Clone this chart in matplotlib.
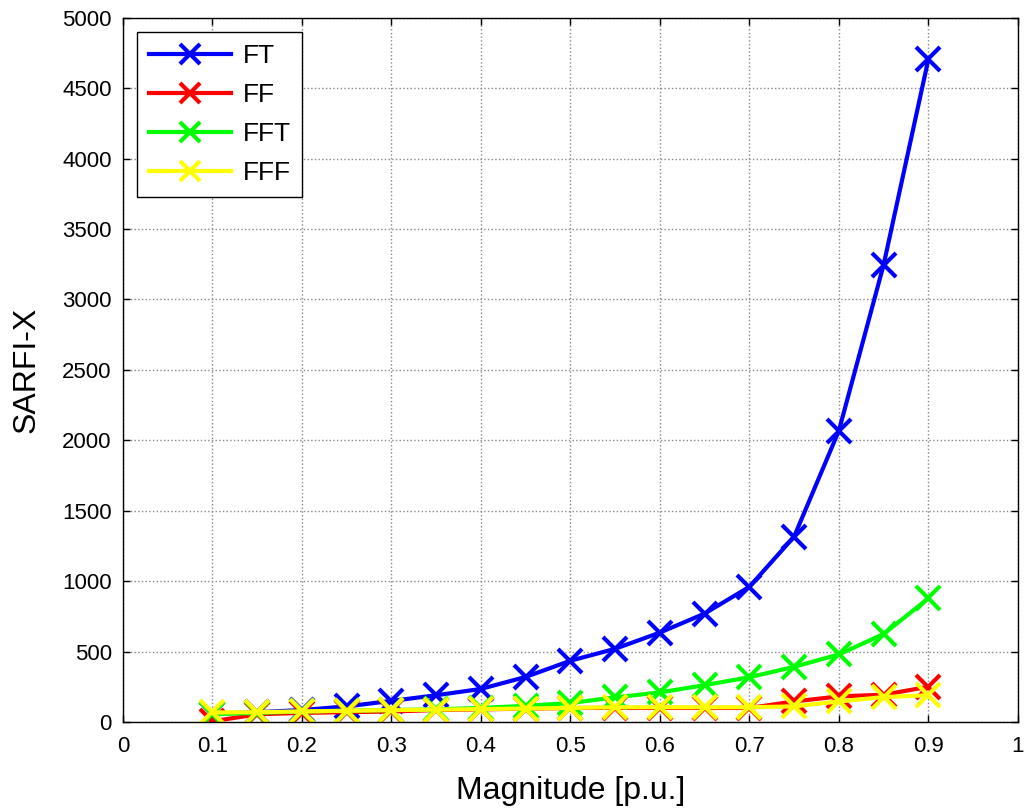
import matplotlib
matplotlib.use("Agg")
import matplotlib.pyplot as plt

plt.rcParams['font.family'] = ['Liberation Sans', 'DejaVu Sans']

x = [0.1, 0.15, 0.2, 0.25, 0.3, 0.35, 0.4, 0.45, 0.5, 0.55, 0.6, 0.65, 0.7, 0.75, 0.8, 0.85, 0.9]
ft = [60, 70, 85, 111, 150, 190, 235, 320, 435, 520, 635, 770, 960, 1316, 2068, 3246, 4705]
ff = [5, 55, 65, 70, 75, 85, 90, 95, 100, 100, 100, 100, 100, 146, 182, 194, 250]
fft = [55, 65, 75, 80, 85, 90, 100, 115, 135, 175, 210, 262, 318, 392, 480, 625, 878]
fff = [68, 70, 75, 80, 85, 88, 92, 96, 100, 105, 105, 105, 105, 111, 146, 177, 190]

series = [("FT", ft, "#0000ff"), ("FF", ff, "#ff0000"), ("FFT", fft, "#00ff00"), ("FFF", fff, "#ffff00")]

fig = plt.figure(figsize=(10.24, 8.09), dpi=100)
ax = fig.add_axes([0.120, 0.1075, 0.874, 0.8705])
for name, ys, c in series:
    ax.plot(x, ys, color=c, lw=3, marker='x', ms=17, mew=3, label=name)

ax.set_xlim(0, 1)
ax.set_ylim(0, 5000)
ax.set_xticks([i / 10 for i in range(11)])
ax.set_xticklabels(['0', '0.1', '0.2', '0.3', '0.4', '0.5', '0.6', '0.7', '0.8', '0.9', '1'])
ax.set_yticks(range(0, 5001, 500))
ax.tick_params(direction='in', top=True, right=True, labelsize=16, length=5, width=1)
ax.tick_params(axis='y', pad=8)
ax.tick_params(axis='x', pad=10)
ax.grid(True, color='#888888', linestyle=':', linewidth=1)
for s in ax.spines.values():
    s.set_linewidth(1)
ax.set_xlabel('Magnitude [p.u.]', fontsize=23, labelpad=14)
ax.set_ylabel('SARFI-X', fontsize=23, labelpad=15)
leg = ax.legend(loc='upper left', bbox_to_anchor=(0.0156, 0.980), borderaxespad=0, fontsize=19,
                fancybox=False, edgecolor='black', framealpha=1, handlelength=3.1,
                borderpad=0.45, labelspacing=0.57, handletextpad=0.45, markerscale=0.85)
leg.get_frame().set_linewidth(1)
fig.savefig('out.png', dpi=100)
